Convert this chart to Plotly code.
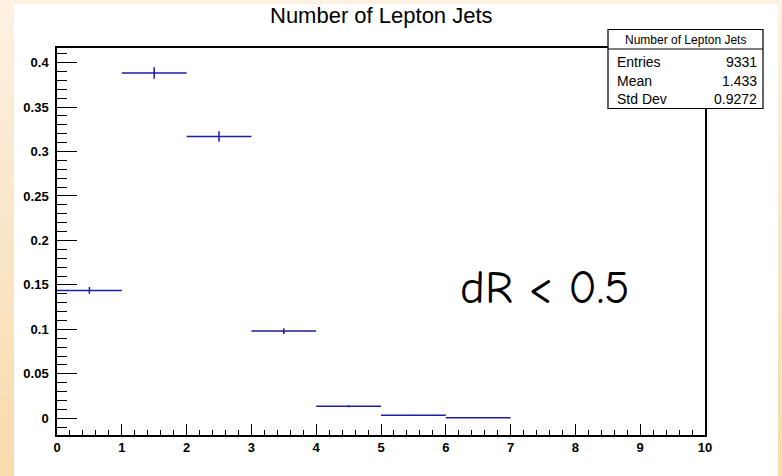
import plotly.graph_objects as go

# ---- data ----
bin_edges = [0, 1, 2, 3, 4, 5, 6, 7]
bin_values = [0.1438, 0.3883, 0.3169, 0.0981, 0.0135, 0.0034, 0.0006]
bin_errors = [0.0039, 0.0064, 0.0058, 0.0032, 0.0012, 0.0006, 0.0003]
stats_labels = ["Entries", "Mean", "Std Dev"]
stats_values = ["9331", "1.433", "0.9272"]
title_text = "Number of Lepton Jets"
note_text = "dR &lt; 0.5"

centers = [(a + b) / 2 for a, b in zip(bin_edges[:-1], bin_edges[1:])]
half_w = [(b - a) / 2 for a, b in zip(bin_edges[:-1], bin_edges[1:])]

W, H = 782, 476
L, R, T, B = 57, 705, 48, 435
def px(x):
    return (x - L) / (R - L)
def py(y):
    return (B - y) / (B - T)

blue = "#1c1ca6"
fig = go.Figure()
fig.add_trace(go.Scatter(
    x=centers, y=bin_values, mode="markers",
    marker=dict(size=1, color=blue, opacity=0),
    error_x=dict(type="data", array=half_w, symmetric=True, width=0, thickness=1.5, color=blue),
    error_y=dict(type="data", array=bin_errors, symmetric=True, width=0, thickness=1.5, color=blue),
    showlegend=False, hoverinfo="skip"))

shapes = []
# gradient background strips
top_c = (253, 241, 226)
bot_c = (249, 220, 174)
n = 24
for i in range(n):
    f = i / (n - 1)
    c = tuple(int(top_c[k] + (bot_c[k] - top_c[k]) * f) for k in range(3))
    y0 = i * H / n
    y1 = (i + 1) * H / n + 1
    col = "rgb(%d,%d,%d)" % c
    for x0, x1 in [(-2, 14), (778, W + 2)]:
        shapes.append(dict(type="rect", xref="paper", yref="paper",
                           x0=px(x0), x1=px(x1), y0=py(y1), y1=py(y0),
                           fillcolor=col, line=dict(width=0), layer="below"))
# top strip
shapes.append(dict(type="rect", xref="paper", yref="paper",
                   x0=px(14), x1=px(778), y0=py(4), y1=py(-2),
                   fillcolor="rgb(253,241,226)", line=dict(width=0), layer="below"))
# white canvas
shapes.append(dict(type="rect", xref="paper", yref="paper",
                   x0=px(14), x1=px(778), y0=py(H + 2), y1=py(4),
                   fillcolor="white", line=dict(width=0), layer="below"))
# stat box
bx0, bx1, by0, by1 = 608, 763, 29.5, 108.5
shapes.append(dict(type="rect", xref="paper", yref="paper",
                   x0=px(bx0), x1=px(bx1), y0=py(by1), y1=py(by0),
                   fillcolor="white", line=dict(color="black", width=1.2), layer="above"))
shapes.append(dict(type="line", xref="paper", yref="paper",
                   x0=px(bx0), x1=px(bx1), y0=py(49), y1=py(49),
                   line=dict(color="black", width=1.2), layer="above"))

annotations = []
annotations.append(dict(text=title_text, xref="paper", yref="paper",
                        x=px(381), y=py(16), xanchor="center", yanchor="middle",
                        showarrow=False, font=dict(family="Liberation Sans, Arial", size=22, color="black")))
annotations.append(dict(text=title_text, xref="paper", yref="paper",
                        x=px((bx0 + bx1) / 2), y=py(39.5), xanchor="center", yanchor="middle",
                        showarrow=False, font=dict(family="Liberation Sans, Arial", size=12, color="black")))
row_y = [62, 81, 99]
for lab, val, yy in zip(stats_labels, stats_values, row_y):
    annotations.append(dict(text=lab, xref="paper", yref="paper", x=px(615), y=py(yy),
                            xanchor="left", yanchor="middle", showarrow=False,
                            font=dict(family="Liberation Sans, Arial", size=14, color="black")))
    annotations.append(dict(text=val, xref="paper", yref="paper", x=px(759), y=py(yy),
                            xanchor="right", yanchor="middle", showarrow=False,
                            font=dict(family="Liberation Sans, Arial", size=14, color="black")))
annotations.append(dict(text=note_text, xref="paper", yref="paper", x=px(545), y=py(288),
                        xanchor="center", yanchor="middle", showarrow=False,
                        font=dict(family="Comic Sans MS, Comic Neue, DejaVu Sans", size=47, color="black")))

axis_common = dict(showgrid=False, zeroline=False, showline=True, linecolor="black", linewidth=1.5,
                   mirror=True, ticks="inside", tickcolor="black", tickwidth=1,
                   tickfont=dict(family="Liberation Sans, Arial", size=13, color="black", weight="bold"))
fig.update_layout(
    width=W, height=H,
    margin=dict(l=L, r=W - R, t=T, b=H - B, pad=0),
    paper_bgcolor="rgb(251,231,205)", plot_bgcolor="white",
    xaxis=dict(range=[0, 10], dtick=1, tick0=0, ticklen=11,
               minor=dict(dtick=0.2, ticklen=5, ticks="inside", tickcolor="black", tickwidth=1),
               **axis_common),
    yaxis=dict(range=[-0.0188, 0.4164], dtick=0.05, tick0=0, ticklen=20,
               minor=dict(dtick=0.01, ticklen=10, ticks="inside", tickcolor="black", tickwidth=1),
               ticklabelstandoff=4,
               **axis_common),
    shapes=shapes, annotations=annotations,
)
fig.write_html("out.html", config={"displayModeBar": False},
               post_script="document.body.style.margin='0px';document.body.style.overflow='hidden';")
